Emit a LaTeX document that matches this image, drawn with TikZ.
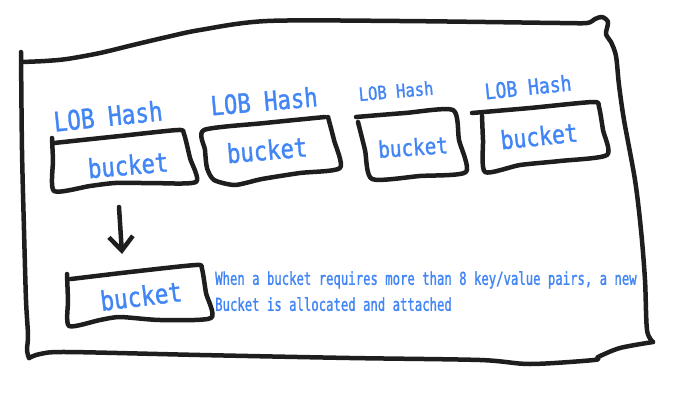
\documentclass[tikz,border=0pt]{standalone}
\usepackage{fontspec}
\newfontfamily\hashfont[FakeStretch=0.84,FakeBold=1.2]{DejaVu Sans Mono}
\newfontfamily\notefont[FakeStretch=0.69,FakeBold=1.2]{DejaVu Sans Mono}
\usepackage{tikz}
\usetikzlibrary{arrows.meta}
\definecolor{inkblue}{RGB}{66,133,244}
\definecolor{inkblack}{RGB}{30,30,30}
\tikzset{sketchline/.style={
    % The stroke:
    line width=4.5pt,
    draw=inkblack,
    line cap=round,
    line join=round,
    },
    hashlabel/.style={
    % Font
    font=\hashfont\fontsize{#1}{#1}\selectfont,
    text=inkblue,
    inner sep=0pt,
    },
    notetext/.style={
    font=\notefont\fontsize{17.8}{26}\selectfont,
    text=inkblue,
    inner sep=0pt,
    align=left,
    },
}

\begin{document}
\begin{tikzpicture}[x=1pt,y=-1pt]
    \useasboundingbox (0,0) rectangle (694,410);
    % the outer frame
    \draw[sketchline] plot[smooth,tension=0.5] coordinates {(21,52) (22,150) (24,230) (26,300) (28,335) (27,350) (29,358)};
    \draw[sketchline] plot[smooth,tension=0.5] coordinates {(22,62) (45,61) (67,59) (100,53) (133,45) (167,37) (200,30) (267,21) (400,21) (560,23) (587,23) (595,19) (602,17) (608,22) (606,34) (611,42) (616,56) (619,85) (624,120) (635,180) (641,230) (645,280) (647,330) (653,342)};
    \draw[sketchline] plot[smooth,tension=0.5] coordinates {(29,358) (40,354) (67,352) (200,355) (350,358) (480,360) (530,364) (594,360) (598,357) (620,348) (653,342)};

    % the bucket outlines
    \draw[sketchline] plot[smooth,tension=0.4] coordinates {(54,143) (120,136) (178,130) (184,134) (190,158) (196,182) (150,183) (115,183) (90,186) (54,191) (53,160) (52,138)};
    \draw[sketchline] plot[smooth,tension=0.4] coordinates {(325,117) (265,123) (204,130) (205,150) (207,168) (214,180) (235,185) (262,179) (300,173) (340,168) (334,140) (328,117)};
    \draw[sketchline] plot[smooth,tension=0.4] coordinates {(356,117) (405,113) (453,110) (459,140) (466,172) (420,176) (372,179) (365,150) (358,122)};
    \draw[sketchline] plot[smooth,tension=0.4] coordinates {(472,113) (530,108) (593,102) (599,107) (603,130) (607,155) (560,161) (520,165) (485,172) (483,140) (482,116)};
    \draw[sketchline] plot[smooth,tension=0.4] coordinates {(71,279) (130,272) (196,265) (202,269) (206,293) (211,318) (160,320) (120,317) (100,320) (69,326) (68,300) (67,274)};

    \node (lob1) [hashlabel=27,rotate=6]   at (108,116) {LOB Hash};
    \node (lob2) [hashlabel=26.5,rotate=5] at (264,101) {LOB Hash};
    \node (lob3) [hashlabel=18.5,rotate=5] at (396,91)  {LOB Hash};
    \node (lob4) [hashlabel=21.5,rotate=6] at (528,87)  {LOB Hash};

    \node (bkt1) [hashlabel=26.5,rotate=5] at (128,165) {bucket};
    \node (bkt2) [hashlabel=26.5,rotate=5] at (267,150) {bucket};
    \node (bkt3) [hashlabel=23,rotate=4]   at (413,147) {bucket};
    \node (bkt4) [hashlabel=25.5,rotate=6] at (539,136) {bucket};
    \node (bkt5) [hashlabel=27,rotate=7]   at (141,296) {bucket};

    \node (note) [notetext,anchor=north west] at (215,271) {When a bucket requires more than 8 key/value pairs, a new\\Bucket is allocated and attached};

    \coordinate (droptop) at (119,207);
    \coordinate (droptip) at (122,254);
    \draw[sketchline,-{Straight Barb[length=14pt,width=24pt]}] (droptop) -- (droptip);
\end{tikzpicture}
\end{document}
